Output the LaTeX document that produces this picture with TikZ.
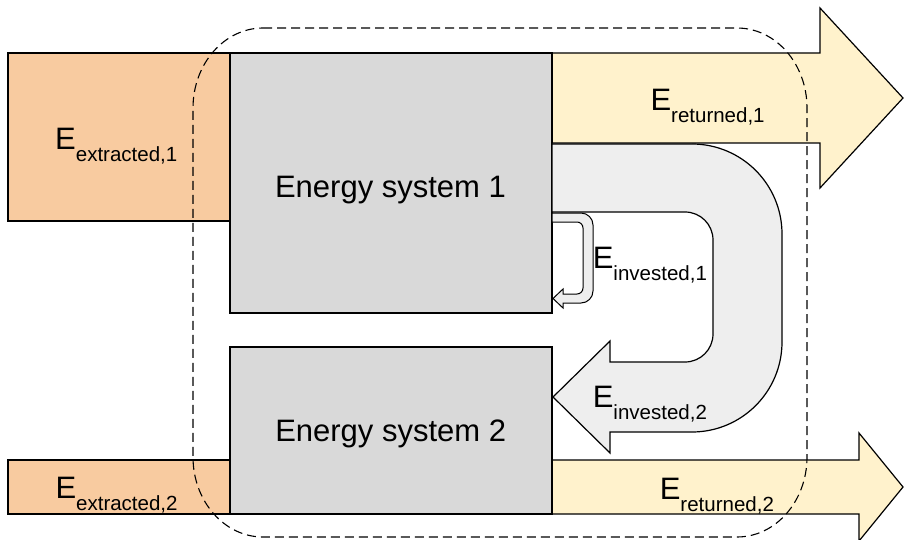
\documentclass[tikz,border=0pt]{standalone}
\usepackage{fontspec}
\setmainfont{Liberation Sans}
\definecolor{esgray}{HTML}{D9D9D9}
\definecolor{expeach}{HTML}{F8CBA0}
\definecolor{retyellow}{HTML}{FFF2CC}
\definecolor{invgray}{HTML}{EEEEEE}
\newcommand\Elab[1]{{\fontsize{31}{31}\selectfont E}\raisebox{-12pt}{\fontsize{20.5}{20.5}\selectfont #1}}
\tikzset{
  esbox/.style={draw=black, fill=esgray, line width=1.2pt, inner sep=0pt},
  exbox/.style={draw=black, fill=expeach, line width=1.2pt, inner sep=0pt},
  retarrow/.style={draw=black, fill=retyellow, line width=1.2pt, line join=miter},
  invarrow/.style={draw=black, fill=invgray, line width=1.2pt, line join=miter},
  elabel/.style={anchor=base west, inner sep=0pt, text=black},
  estext/.style={anchor=base, inner sep=0pt, font=\fontsize{31}{31}\selectfont},
  sysbound/.style={draw=black, line width=1.1pt, dash pattern=on 9pt off 5pt}
}
\begin{document}
\begin{tikzpicture}[x=1pt,y=-1pt]
\useasboundingbox (0,0) rectangle (904,540);
% extracted
\node[exbox, minimum width=222pt, minimum height=168pt] (ex1) at (119,137) {};
\node[exbox, minimum width=222pt, minimum height=54pt] (ex2) at (119,487) {};
% returned arrows
\draw[retarrow] (552,53) -- (820,53) -- (820,8) -- (903,98) -- (820,188) -- (820,143) -- (552,143) -- cycle;
\draw[retarrow] (552,460) -- (859,460) -- (859,433) -- (903,487) -- (859,541) -- (859,514) -- (552,514) -- cycle;
% energy systems
\node[esbox, minimum width=322pt, minimum height=260pt] (es1) at (391,183) {};
\node[esbox, minimum width=322pt, minimum height=167pt] (es2) at (391,430.5) {};
\node[estext] (t1) at (390.5,197) {Energy system 1};
\node[estext] (t2) at (390.7,441.7) {Energy system 2};
% invested 2 (big U-turn arrow)
\draw[invarrow] (552,144) -- (692,144) .. controls (741.7,144) and (782,184.3) .. (782,234)
  -- (782,342) .. controls (782,391.7) and (741.7,432) .. (692,432)
  -- (610,432) -- (610,453) -- (553,397) -- (610,341) -- (610,362)
  -- (685,362) .. controls (700.5,362) and (713,349.5) .. (713,334)
  -- (713,240) .. controls (713,224.5) and (700.5,212) .. (685,212)
  -- (552,212) -- cycle;
% invested 1 (small loop arrow)
\draw[invarrow, line width=1pt] (552,213) -- (581,213) .. controls (587.6,213) and (593,218.4) .. (593,225)
  -- (593,291) .. controls (593,297.6) and (587.6,303) .. (581,303)
  -- (563,303) -- (563,308) -- (553,298.5) -- (563,289) -- (563,294)
  -- (577,294) .. controls (580.3,294) and (583,291.3) .. (583,288)
  -- (583,228) .. controls (583,224.7) and (580.3,222) .. (577,222)
  -- (552,222) -- cycle;
% labels
\node[elabel] (lex1) at (55,150) {\Elab{extracted,1}};
\node[elabel] (lret1) at (650.3,111) {\Elab{returned,1}};
\node[elabel] (linv1) at (592.6,268.5) {\Elab{invested,1}};
\node[elabel] (linv2) at (592.6,407.3) {\Elab{invested,2}};
\node[elabel] (lex2) at (55.3,498.5) {\Elab{extracted,2}};
\node[elabel] (lret2) at (659.6,499) {\Elab{returned,2}};
% system boundary
\draw[sysbound] (263,28) -- (737,28)
  .. controls (775.66,28) and (807,63.82) .. (807,108)
  -- (807,457) .. controls (807,501.18) and (775.66,537) .. (737,537)
  -- (263,537) .. controls (224.34,537) and (193,501.18) .. (193,457)
  -- (193,108) .. controls (193,63.82) and (224.34,28) .. (263,28) -- cycle;
\end{tikzpicture}
\end{document}
